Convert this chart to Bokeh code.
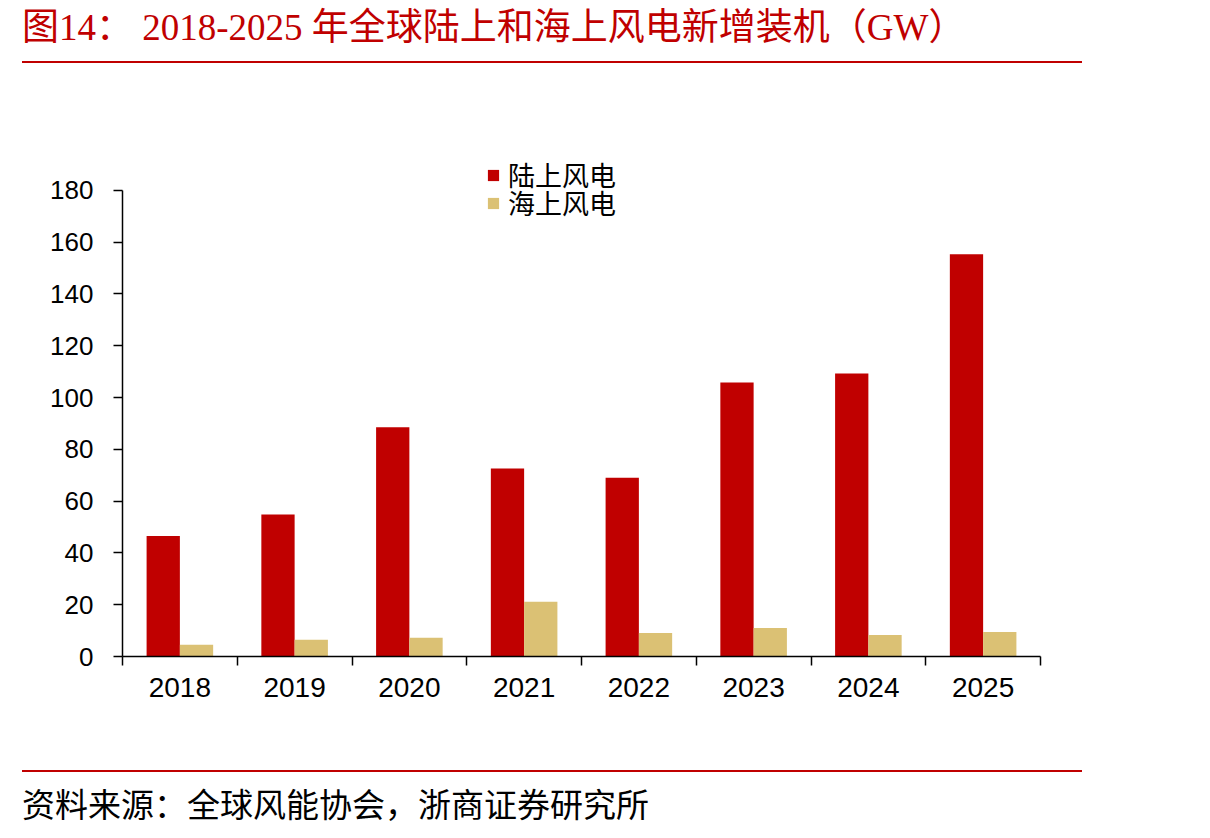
from bokeh.plotting import figure
from bokeh.models import (ColumnDataSource, Range1d, FixedTicker, Legend, LegendItem, Div)
from bokeh.layouts import column
from bokeh.transform import dodge
from bokeh.embed import file_html
from bokeh.resources import INLINE

# Newly installed wind capacity (GW)
years = ["2018", "2019", "2020", "2021", "2022", "2023", "2024", "2025"]
onshore = [46.5, 54.8, 88.5, 72.6, 69.0, 105.8, 109.3, 155.3]
offshore = [4.5, 6.5, 7.2, 21.1, 9.1, 11.0, 8.3, 9.5]
y_ticks = [0, 20, 40, 60, 80, 100, 120, 140, 160, 180]

RED = "#C00000"
TAN = "#DBC174"
SANS = "Liberation Sans"
CJK = "Noto Sans CJK SC"

centers = [i + 0.5 for i in range(len(years))]
source = ColumnDataSource(dict(x=centers, year=years, onshore=onshore, offshore=offshore))

p = figure(frame_width=918, frame_height=518,
           min_border_left=122, min_border_right=170,
           min_border_top=74, min_border_bottom=114,
           x_range=Range1d(0, len(years)), y_range=Range1d(0, 200),
           output_backend="svg", toolbar_location=None,
           background_fill_color="white", border_fill_color="white")
p.outline_line_color = None
p.xgrid.visible = False
p.ygrid.visible = False

bw = 0.29
r_on = p.vbar(x=dodge("x", -bw / 2, range=p.x_range), top="onshore", width=bw,
              source=source, fill_color=RED, line_color=None)
r_off = p.vbar(x=dodge("x", bw / 2, range=p.x_range), top="offshore", width=bw,
               source=source, fill_color=TAN, line_color=None)

# y axis
ya = p.yaxis[0]
ya.ticker = FixedTicker(ticks=y_ticks)
ya.bounds = (0, 180)
ya.axis_line_color = "black"
ya.axis_line_width = 1.5
ya.major_tick_line_color = "black"
ya.major_tick_line_width = 1.5
ya.major_tick_out = 9
ya.major_tick_in = 0
ya.minor_tick_line_color = None
ya.major_label_standoff = 20
ya.major_label_text_font = SANS
ya.major_label_text_font_size = "26px"
ya.major_label_text_color = "black"

# x axis: labels at category centers, ticks on category boundaries
xa = p.xaxis[0]
xa.ticker = FixedTicker(ticks=centers, minor_ticks=list(range(len(years) + 1)))
xa.major_label_overrides = {c: y for c, y in zip(centers, years)}
xa.axis_line_color = "black"
xa.axis_line_width = 1.5
xa.major_tick_line_color = None
xa.major_tick_out = 8
xa.major_tick_in = 0
xa.minor_tick_line_color = "black"
xa.minor_tick_line_width = 1.5
xa.minor_tick_out = 9
xa.minor_tick_in = 0
xa.major_label_standoff = 12
xa.major_label_text_font = SANS
xa.major_label_text_font_size = "28px"
xa.major_label_text_color = "black"

def make_legend(label, renderer, loc):
    lg = Legend(items=[LegendItem(label=label, renderers=[renderer])],
                location=loc, orientation="vertical",
                padding=0, margin=0, spacing=0,
                glyph_width=14, glyph_height=14, label_height=28,
                label_standoff=8,
                label_text_font=CJK, label_text_font_size="27px",
                label_text_color="black",
                border_line_color=None, background_fill_alpha=0)
    p.add_layout(lg)

make_legend("陆上风电", r_on, (364, 462))
make_legend("海上风电", r_off, (364, 434))

title_html = (
    '<div style="margin-left:22px;width:1060px;height:63px;box-sizing:border-box;'
    'border-bottom:2px solid #C00000;color:#C00000;font-size:37px;line-height:56px;'
    'white-space:nowrap;font-family:\'Liberation Serif\',\'Noto Sans CJK SC\',serif;">'
    '图14：&nbsp;2018-2025 年全球陆上和海上风电新增装机（GW）</div>'
)
title_div = Div(text=title_html, width=1210, height=64, margin=(0, 0, 0, 0))

footer_html = (
    '<div style="margin-left:22px;width:1060px;height:68px;box-sizing:border-box;'
    'border-top:2px solid #C00000;color:black;font-size:33px;line-height:68px;'
    'white-space:nowrap;font-family:\'Liberation Serif\',\'Noto Sans CJK SC\',serif;">'
    '资料来源：全球风能协会，浙商证券研究所</div>'
)
footer_div = Div(text=footer_html, width=1210, height=68, margin=(0, 0, 0, 0))

layout = column(title_div, p, footer_div, spacing=0, margin=(0, 0, 0, 0))

open("out.html", "w").write(file_html(layout, INLINE))
